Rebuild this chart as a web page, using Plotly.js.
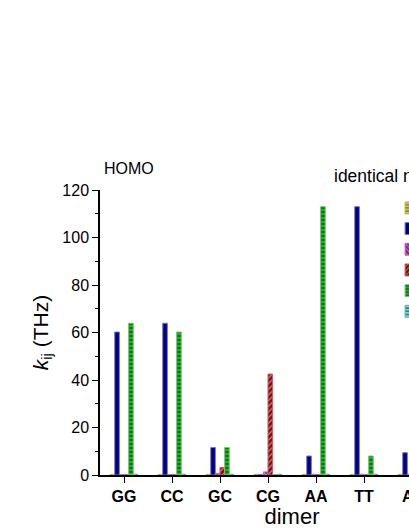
<!DOCTYPE html>
<html>
<head>
<meta charset="utf-8">
<script src="https://cdn.plot.ly/plotly-3.0.1.min.js"></script>
<style>
  html, body { margin: 0; padding: 0; overflow: hidden; background: #fff; }
</style>
</head>
<body>
<div id="plot"></div>
<script>
// dimers on the x axis
var dimers = ['GG', 'CC', 'GC', 'CG', 'AA', 'TT', 'AT', 'TA'];

// rates k_ij (THz), one array per series
var olive  = [0.3, 0.3, 0.3, 0.3, 0.3, 0.3, 0.3, 0.3];
var navy   = [60.2, 63.9, 11.6, 0.2, 8.0, 113.0, 9.4, 9.4];
var purple = [0.2, 0.2, 0.7, 1.3, 0.3, 0.3, 0.3, 0.3];
var red    = [0.1, 0.1, 3.2, 42.5, 0.1, 0.1, 0.1, 0.1];
var green  = [63.9, 60.2, 11.6, 0.2, 113.0, 8.0, 9.4, 9.4];
var teal   = [0.3, 0.3, 0.3, 0.3, 0.3, 0.3, 0.3, 0.3];

var seriesNames = ['k1', 'k2', 'k3', 'k4', 'k5', 'k6'];

function bar(name, y, bg, fg, line, shape, solid) {
  return {
    type: 'bar',
    name: name,
    x: dimers,
    y: y,
    marker: {
      color: bg,
      line: {color: line, width: 1},
      pattern: {shape: shape, bgcolor: bg, fgcolor: fg, size: 4, solidity: solid}
    }
  };
}

var data = [
  bar(seriesNames[0], olive, '#8f8f10', '#d8d870', '#b8b850', '-', 0.4),
  bar(seriesNames[1], navy, '#000080', '#000080', '#7878c0', '', 0.4),
  bar(seriesNames[2], purple, '#9a1a9a', '#e8a8e8', '#c070c0', '\\', 0.25),
  bar(seriesNames[3], red, '#8c0a0a', '#e8a0a0', '#c06060', '/', 0.25),
  bar(seriesNames[4], green, '#2aa82a', '#0a6a0a', '#70c870', '-', 0.4),
  bar(seriesNames[5], teal, '#109090', '#a0e0e0', '#60b8b8', '-', 0.4)
];

var font = {family: 'Arial, "Liberation Sans", sans-serif', color: '#000'};

var layout = {
  width: 640,
  height: 529,
  margin: {l: 100, r: 156, t: 190, b: 54},
  paper_bgcolor: '#fff',
  plot_bgcolor: '#fff',
  font: font,
  barmode: 'group',
  bargap: 0.42,
  bargroupgap: 0,
  showlegend: true,
  legend: {
    x: 0.758, y: 0.991, xanchor: 'left', yanchor: 'top',
    bgcolor: 'rgba(0,0,0,0)',
    font: {family: font.family, size: 13.6, color: '#000'},
    tracegroupgap: 0
  },
  xaxis: {
    type: 'category',
    range: [-0.5, 7.5],
    showline: true, linecolor: '#000', linewidth: 1.5,
    ticks: 'outside', ticklen: 6, tickcolor: '#000', tickwidth: 1.2,
    tickfont: {family: font.family, size: 16, weight: 'bold', color: '#000'},
    showgrid: false, zeroline: false,
    title: {text: 'dimer', font: {family: font.family, size: 22, color: '#000'}, standoff: 8}
  },
  xaxis2: {
    overlaying: 'x', side: 'top', anchor: 'y',
    type: 'linear', range: [-0.5, 7.5], tick0: 0, dtick: 1,
    showline: true, linecolor: '#000', linewidth: 1.5,
    ticks: 'inside', ticklen: 5, tickcolor: '#000', tickwidth: 1.2,
    showticklabels: false, showgrid: false, zeroline: false
  },
  yaxis: {
    range: [0, 120],
    dtick: 20,
    showline: true, linecolor: '#000', linewidth: 1.5, mirror: true,
    ticks: 'outside', ticklen: 6, tickcolor: '#000', tickwidth: 1.2,
    minor: {dtick: 10, ticks: 'outside', ticklen: 3, tickcolor: '#000', tickwidth: 1},
    tickfont: {family: font.family, size: 16, color: '#000'},
    showgrid: false, zeroline: false,
    title: {text: '<i>k</i><sub>ij</sub> (THz)', font: {family: font.family, size: 21, color: '#000'}, standoff: 8}
  },
  annotations: [
    {xref: 'paper', yref: 'paper', x: 0.005, y: 1.077, xanchor: 'left', yanchor: 'middle',
     text: 'HOMO', showarrow: false, font: {family: font.family, size: 16, color: '#000'}},
    {xref: 'paper', yref: 'paper', x: 0.605, y: 1.049, xanchor: 'left', yanchor: 'middle',
     text: 'identical nucleobases', showarrow: false, font: {family: font.family, size: 17.5, color: '#000'}}
  ]
};

Plotly.newPlot('plot', data, layout, {displayModeBar: false});
</script>
</body>
</html>
